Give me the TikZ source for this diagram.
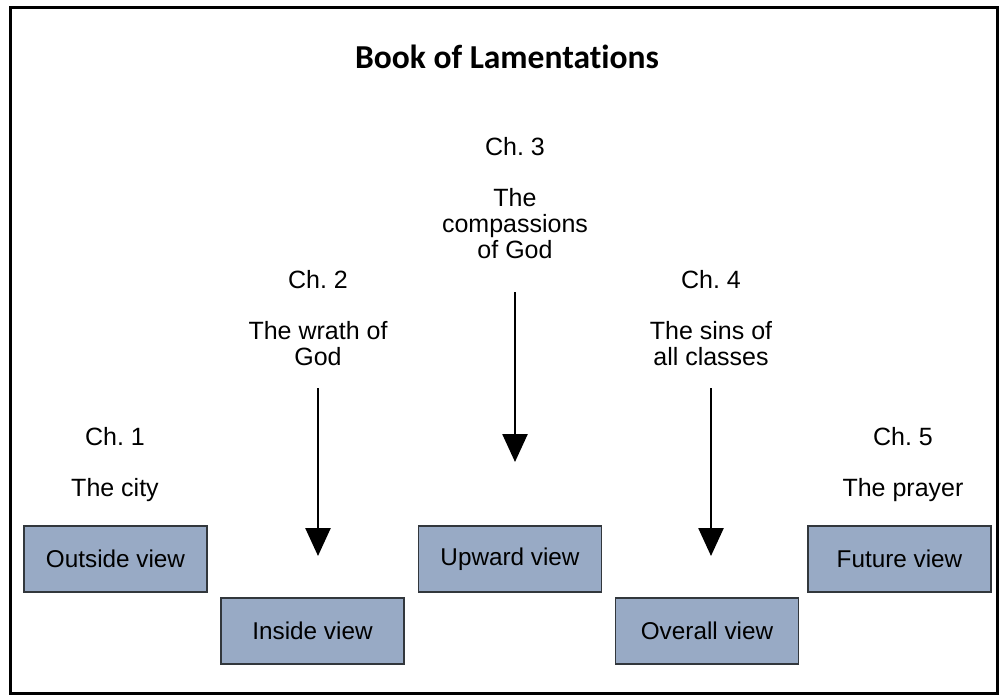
\documentclass[tikz,border=0pt]{standalone}
\usepackage{fontspec}
\setmainfont{Liberation Sans}
\newfontfamily\titlefont[Ligatures=CommonOff]{Carlito}
\usetikzlibrary{arrows.meta}
\definecolor{boxfill}{RGB}{152,170,197}
\definecolor{boxline}{RGB}{50,55,60}
\frenchspacing
\tikzset{
  viewbox/.style={draw=boxline, line width=1.3pt, fill=boxfill, minimum width=183pt, minimum height=66pt, inner sep=0pt, font=\fontsize{24.3}{27}\selectfont},
  lbl/.style={align=center, font=\fontsize{25}{26}\selectfont, inner sep=0pt},
  down/.style={line width=2.6pt, -{Triangle[width=25pt,length=28pt]}}
}
\begin{document}
\begin{tikzpicture}[x=1pt,y=-1pt]
\useasboundingbox (0,0) rectangle (1003,695);
\draw[line width=3pt] (10,8) rectangle (997,693);
\node[font=\titlefont\bfseries\fontsize{33.5}{36}\selectfont] (title) at (507,57) {Book of Lamentations};
% boxes
\node[viewbox] (b1) at (115.5,559) {Outside view};
\node[viewbox] (b2) at (312.5,631) {Inside view};
\node[viewbox] (b3) at (510,559) {\raisebox{2pt}{Upward view}};
\node[viewbox] (b4) at (707,631) {Overall view};
\node[viewbox] (b5) at (899.5,559) {Future view};
% labels
\node[lbl] (c1) at (115,437) {Ch. 1};
\node[lbl] (t1) at (115,490) {The city};
\node[lbl] (c2) at (318,280) {Ch. 2};
\node[lbl, anchor=north] (t2) at (318,321) {The wrath of\\God};
\node[lbl] (c3) at (515,147) {Ch. 3};
\node[lbl, anchor=north] (t3) at (515,188) {The\\compassions\\of God};
\node[lbl] (c4) at (711,280) {Ch. 4};
\node[lbl, anchor=north] (t4) at (711,321) {The sins of\\all classes};
\node[lbl] (c5) at (903,437) {Ch. 5};
\node[lbl] (t5) at (903,490) {The prayer};
% arrows
\coordinate (a2s) at (318,388); \coordinate (a2e) at (318,556);
\coordinate (a3s) at (515,292); \coordinate (a3e) at (515,462);
\coordinate (a4s) at (711,388); \coordinate (a4e) at (711,556);
\draw[down] (a2s) -- (a2e);
\draw[down] (a3s) -- (a3e);
\draw[down] (a4s) -- (a4e);
\end{tikzpicture}
\end{document}
